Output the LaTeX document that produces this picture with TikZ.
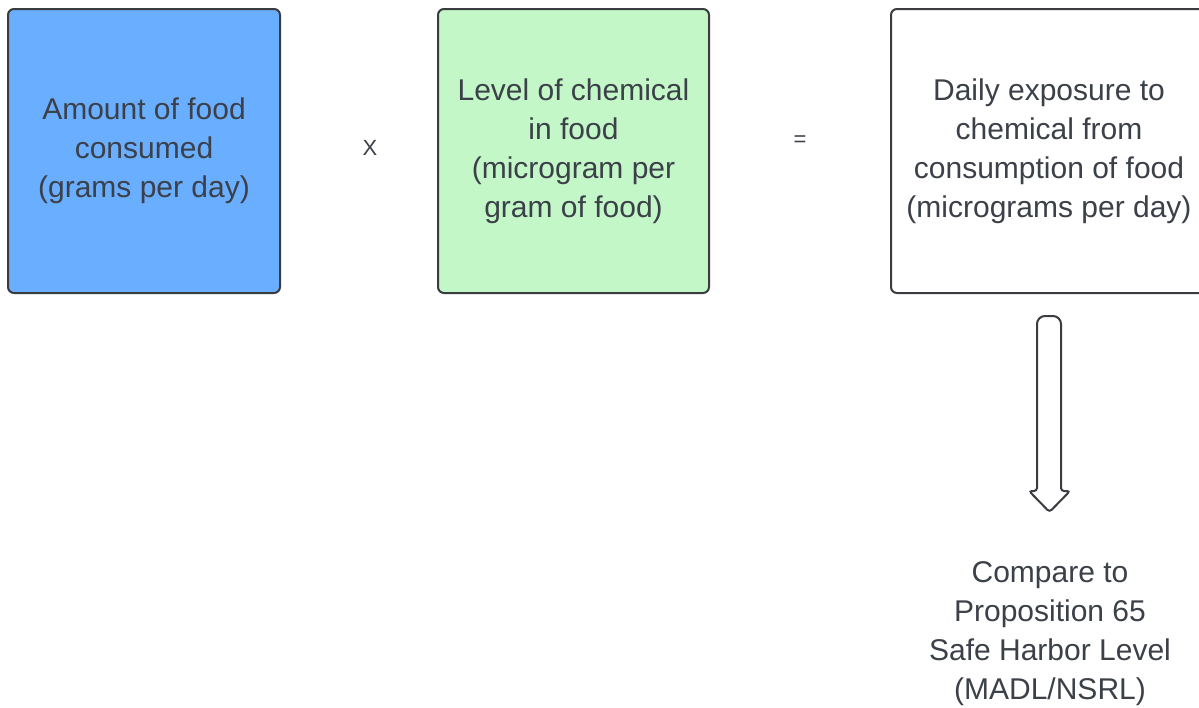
\documentclass[tikz,border=0pt]{standalone}
\usepackage{fontspec}
\setmainfont{Liberation Sans}
\definecolor{inkgray}{HTML}{3B4049}
\definecolor{edgegray}{HTML}{3A3C40}
\definecolor{foodblue}{HTML}{6AAEFF}
\definecolor{chemgreen}{HTML}{C3F7C8}
\tikzset{
  factorbox/.style={draw=edgegray, line width=2pt, rounded corners=6pt,
    minimum height=284pt, inner sep=0pt, align=center, text=inkgray,
    font=\fontsize{30}{39}\selectfont},
  opsign/.style={text=inkgray, inner sep=0pt, font=\fontsize{22}{26}\selectfont},
  hollowarrow/.style={draw=edgegray, line width=2pt, fill=white},
  notetext/.style={align=center, text=inkgray, inner sep=0pt,
    font=\fontsize{30}{39}\selectfont}
}
\begin{document}
\begin{tikzpicture}[x=1pt,y=-1pt]
  \useasboundingbox (0,0) rectangle (1199,707);
  \clip (0,0) rectangle (1199,707);
  \fill[white] (0,0) rectangle (1199,707);

  % the three terms of the intake equation
  \node[factorbox, fill=foodblue, minimum width=272pt] (amount) at (144,151)
    {Amount of food\\consumed\\(grams per day)};
  \node[factorbox, fill=chemgreen, minimum width=271pt] (level) at (573.5,151)
    {Level of chemical\\in food\\(microgram per\\gram of food)};
  \node[factorbox, fill=white, minimum width=316pt] (exposure) at (1049,151)
    {Daily exposure to\\chemical from\\consumption of food\\(micrograms per day)};

  % operators between the terms
  \node[opsign] (times) at (370,148) {X};
  \node[opsign] (equals) at (800,141) {=};

  % hollow block arrow pointing down to the comparison
  \draw[hollowarrow, rounded corners=3pt] (1037,491)
    [rounded corners=8pt] -- (1037,316) -- (1061,316)
    [rounded corners=3pt] -- (1061,491)
    -- (1070,491) -- (1049.5,512) -- (1029,491) -- cycle;

  \node[notetext] (compare) at (1050,634)
    {Compare to\\Proposition 65\\Safe Harbor Level\\(MADL/NSRL)};
\end{tikzpicture}
\end{document}
